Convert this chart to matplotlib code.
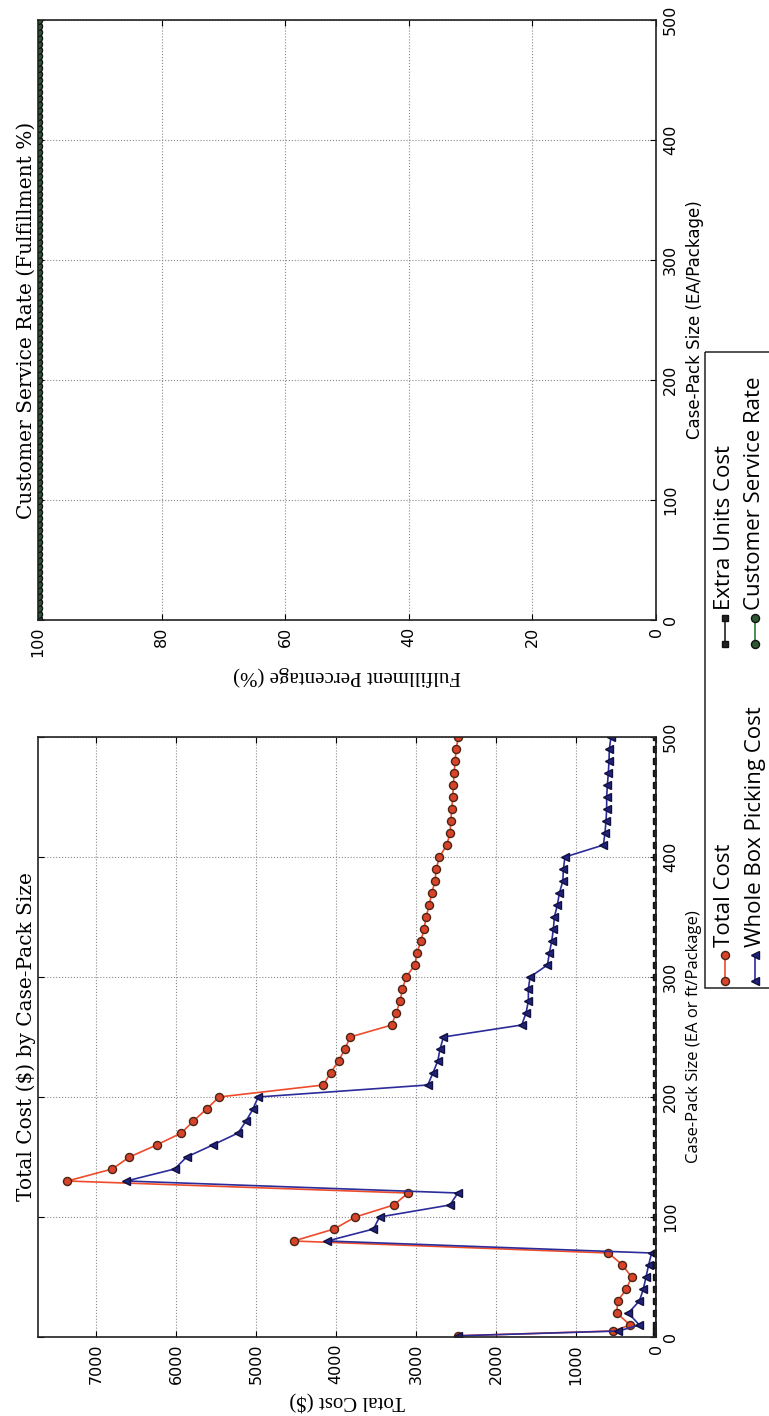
import matplotlib
matplotlib.use('Agg')
import matplotlib.pyplot as plt
from matplotlib.patches import Rectangle

# data (case-pack size vs cost)
case_pack = [1, 5, 10, 20, 30, 40, 50, 60, 70, 80, 90, 100, 110, 120, 130, 140, 150,
             160, 170, 180, 190, 200, 210, 220, 230, 240, 250, 260, 270, 280, 290,
             300, 310, 320, 330, 340, 350, 360, 370, 380, 390, 400, 410, 420, 430,
             440, 450, 460, 470, 480, 490, 500]
total_cost = [2480, 535, 325, 490, 480, 370, 305, 420, 595, 4530, 4025, 3760, 3280,
              3100, 7360, 6800, 6585, 6245, 5935, 5785, 5620, 5465, 4160, 4070, 3970,
              3890, 3825, 3305, 3250, 3200, 3170, 3125, 3015, 2990, 2940, 2900, 2875,
              2835, 2805, 2762, 2750, 2708, 2617, 2575, 2567, 2554, 2542, 2533, 2525,
              2512, 2500, 2471]
whole_box_cost = [2480, 470, 208, 346, 208, 158, 125, 92, 55, 4110, 3533, 3457, 2578,
                  2477, 6623, 6020, 5869, 5543, 5226, 5126, 5040, 4975, 2854, 2790,
                  2729, 2700, 2658, 1679, 1625, 1596, 1596, 1575, 1358, 1333, 1304,
                  1283, 1271, 1233, 1208, 1165, 1158, 1138, 658, 638, 625, 617, 617,
                  608, 596, 588, 583, 563]
extra_units_cost = [0, 0, 0, 0, 0, 0, 0, 0, 0, 0, 0, 0, 0, 0, 0, 0, 0, 0, 0, 0, 0, 0,
                    0, 0, 0, 0, 0, 0, 0, 0, 0, 0, 0, 0, 0, 0, 0, 0, 0, 0, 0, 0, 0, 0,
                    0, 0, 0, 0, 0, 0, 0, 0]

# service rate plot uses a finer case-pack grid
cs_case_pack = [1, 5, 10, 15, 20, 25, 30, 35, 40, 45, 50, 55, 60, 65, 70, 75, 80, 85,
                90, 95, 100, 105, 110, 115, 120, 125, 130, 135, 140, 145, 150, 155,
                160, 165, 170, 175, 180, 185, 190, 195, 200, 205, 210, 215, 220, 225,
                230, 235, 240, 245, 250, 255, 260, 265, 270, 275, 280, 285, 290, 295,
                300, 305, 310, 315, 320, 325, 330, 335, 340, 345, 350, 355, 360, 365,
                370, 375, 380, 385, 390, 395, 400, 405, 410, 415, 420, 425, 430, 435,
                440, 445, 450, 455, 460, 465, 470, 475, 480, 485, 490, 495, 500]
service_rate = [100, 100, 100, 100, 100, 100, 100, 100, 100, 100, 100, 100, 100, 100,
                100, 100, 100, 100, 100, 100, 100, 100, 100, 100, 100, 100, 100, 100,
                100, 100, 100, 100, 100, 100, 100, 100, 100, 100, 100, 100, 100, 100,
                100, 100, 100, 100, 100, 100, 100, 100, 100, 100, 100, 100, 100, 100,
                100, 100, 100, 100, 100, 100, 100, 100, 100, 100, 100, 100, 100, 100,
                100, 100, 100, 100, 100, 100, 100, 100, 100, 100, 100, 100, 100, 100,
                100, 100, 100, 100, 100, 100, 100, 100, 100, 100, 100, 100, 100, 100,
                100, 100, 100]

cost_ticks = [0, 1000, 2000, 3000, 4000, 5000, 6000, 7000]
rate_ticks = [0, 20, 40, 60, 80, 100]
pack_ticks = [0, 100, 200, 300, 400, 500]

# styles
red = dict(color='#ee4b2b', marker='o', ms=5.8, mfc='#d9432a', mec='#4a2515', lw=1.2)
blue = dict(color='#2b2b9a', marker='<', ms=5.8, mfc='#22227a', mec='#101040', lw=1.2)
black = dict(color='#222222', marker='s', ms=5, mfc='#222222', mec='#111111', lw=1.2)
green = dict(color='#2e7d3a', marker='o', ms=5.8, mfc='#2a5a32', mec='#111111', lw=1.2)

W, H = 769, 1416
fig = plt.figure(figsize=(W / 100, H / 100), dpi=100)


def px_axes(x0, y0, x1, y1):
    return fig.add_axes([x0 / W, 1 - y1 / H, (x1 - x0) / W, (y1 - y0) / H])


def style(ax, xticks):
    ax.grid(True, ls=':', color='#8a8a8a', lw=0.8)
    ax.set_xticks(xticks)
    ax.set_yticks(pack_ticks)
    ax.set_ylim(0, 500)
    ax.yaxis.tick_right()
    ax.yaxis.set_label_position('right')
    ax.tick_params(direction='in', length=4, top=True, bottom=True, left=True,
                   right=True, labelsize=11.5)
    ax.tick_params(axis='x', pad=5)
    ax.tick_params(axis='y', pad=5)
    for lab in ax.get_xticklabels():
        lab.set_rotation(90)
    for lab in ax.get_yticklabels():
        lab.set_rotation(90)
        lab.set_va('center')
    for s in ax.spines.values():
        s.set_linewidth(1.2)
        s.set_color('#222222')


# ---- top: customer service rate (figure drawn sideways) ----
ax_cs = px_axes(38, 20, 656, 620)
ax_cs.plot(service_rate, cs_case_pack, **green)
ax_cs.set_xlim(100, 0)
style(ax_cs, rate_ticks)
ax_cs.set_xlabel('Fulfillment Percentage (%)', family='Liberation Serif', fontsize=15,
                 rotation=180, labelpad=6)
ax_cs.set_ylabel('Case-Pack Size (EA/Package)', family='DejaVu Sans', fontsize=12,
                 rotation=90, labelpad=6)
ax_cs.text(-0.003, 0.5, 'Customer Service Rate (Fulfillment %)', transform=ax_cs.transAxes,
           rotation=90, ha='right', va='center', family='DejaVu Serif', fontsize=14.5)

# ---- bottom: total cost ----
ax_tc = px_axes(38, 737, 656, 1337)
ax_tc.plot(total_cost, case_pack, **red)
ax_tc.plot(whole_box_cost, case_pack, **blue)
ax_tc.plot(extra_units_cost, case_pack, **black)
ax_tc.set_xlim(max(total_cost) * 1.05, 0)
style(ax_tc, cost_ticks)
ax_tc.set_xlabel('Total Cost ($)', family='Liberation Serif', fontsize=15,
                 rotation=180, labelpad=4)
ax_tc.set_ylabel('Case-Pack Size (EA or ft/Package)', family='Open Sans', fontsize=12,
                 rotation=90, labelpad=6)
ax_tc.text(-0.003, 0.5, 'Total Cost ($) by Case-Pack Size', transform=ax_tc.transAxes,
           rotation=90, ha='right', va='center', family='DejaVu Serif', fontsize=14.5)

# ---- legend, drawn sideways by hand ----
lax = fig.add_axes([0, 0, 1, 1])
lax.set_xlim(0, W)
lax.set_ylim(H, 0)
lax.axis('off')
lax.add_patch(Rectangle((705, 352), 120, 636, fill=False, lw=1.1, ec='#222222'))
entries = [('Total Cost', red, 725, 955), ('Whole Box Picking Cost', blue, 755, 955),
           ('Extra Units Cost', black, 725, 618), ('Customer Service Rate', green, 755, 618)]
for label, st, x, y in entries:
    lax.plot([x, x], [y, y + 26], **st)
    lax.text(x, y - 8, label, rotation=90, ha='center', va='bottom',
             family='Open Sans', fontsize=16)

fig.savefig('out.png', dpi=100)
